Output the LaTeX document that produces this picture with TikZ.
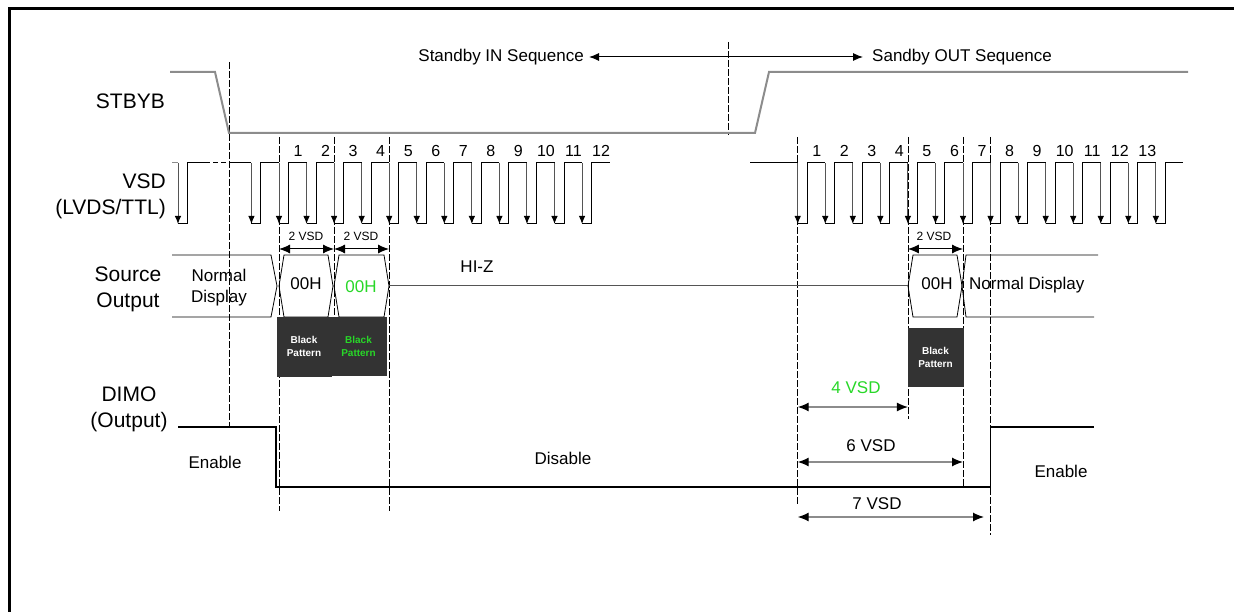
\documentclass[tikz,border=0pt]{standalone}
\usepackage{fontspec}
\setmainfont{Liberation Sans}
\usetikzlibrary{arrows.meta,calc,positioning}
\definecolor{wavegray}{RGB}{140,140,140}
\definecolor{edgegray}{RGB}{85,85,85}
\definecolor{patfill}{RGB}{51,51,51}
\definecolor{hilite}{RGB}{40,215,40}
\newcommand\hexcell[2]{\draw[cell] (#1+5,255) -- (#2-5,255) -- (#2,286) -- (#2-5,317) -- (#1+5,317) -- (#1,286) -- cycle;}

\begin{document}
\begin{tikzpicture}[x=1pt,y=-1pt,
  sig/.style={font=\fontsize{21}{26}\selectfont,inner sep=0pt},
  txt/.style={font=\fontsize{17}{21}\selectfont,inner sep=0pt},
  num/.style={font=\fontsize{16}{18}\selectfont,inner sep=0pt},
  small/.style={font=\fontsize{12}{14}\selectfont,inner sep=0pt},
  guide/.style={line width=0.7pt,dash pattern=on 7pt off 2pt},
  wave/.style={line width=1pt},
  pulse/.style={-{Latex[length=8pt,width=6.5pt,color=black]},edgegray,line width=1pt},
  dim/.style={{Latex[length=11pt,width=9pt,color=black]}-{Latex[length=11pt,width=9pt,color=black]},wavegray,line width=1.2pt},
  patt/.style={fill=patfill,draw=patfill,minimum width=55pt,minimum height=58pt,inner sep=0pt,
    font=\fontsize{10}{13}\selectfont\bfseries,align=center,text=white},
  cell/.style={line width=0.8pt}]
\useasboundingbox (0,0) rectangle (1234,612);
\draw[line width=3pt] (9,612) -- (9,9) -- (1234,9);

\foreach \n/\x in {a/229,b/279,c/334,d/389,e/728,f/797.7,g/907.9,h/963,i/990.5}
  \coordinate (\n) at (\x,0);

\node[txt,anchor=east] (inseq) at (584,57) {Standby IN Sequence};
\node[txt,anchor=west] (outseq) at (872,57) {Sandby OUT Sequence};
\draw[{Latex[length=10pt,width=8pt]}-{Latex[length=10pt,width=8pt]},line width=1pt] ([xshift=5pt]inseq.east) -- ([xshift=-9pt]outseq.west);

\node[sig,anchor=east] (stbyb) at (165,101) {STBYB};
\node[sig,anchor=east,align=right] (vsd) at (166,196) {VSD\\(LVDS/TTL)};
\node[sig,align=center] (src) at (128,289) {Source\\Output};
\node[sig,align=center] (dimo) at (129,409) {DIMO\\(Output)};

\draw[guide] (a |- 0,62) -- (a |- 0,427);
\draw[guide] (b |- 0,137) -- (b |- 0,511);
\draw[guide] (c |- 0,137) -- (c |- 0,317);
\draw[guide] (d |- 0,137) -- (d |- 0,511);
\draw[guide] (e |- 0,42) -- (e |- 0,135);
\draw[guide] (f |- 0,137) -- (f |- 0,505);
\draw[guide] (g |- 0,137) -- (g |- 0,419);
\draw[guide] (h |- 0,137) -- (h |- 0,487);
\draw[guide] (i |- 0,137) -- (i |- 0,535);

\draw[wavegray,line width=2pt] (170,72) -- (215,72) -- (a |- 0,133) -- (755,133) -- (769,72) -- (1188,72);

\draw[wavegray,line width=1pt] (172,163) -- (178,163);
\draw[pulse] (178,163) -- (178,224);
\draw[wave] (178,224) -- (187.5,224) -- (187.5,163) -- (205,163);
\draw[wave,dash pattern=on 5pt off 3pt] (205,163) -- (a |- 0,163);
\draw[wave] (a |- 0,163) -- (251.45,163);
\foreach \k in {-1,...,11} {
  \pgfmathsetmacro\xa{279+27.55*\k}
  \draw[pulse] (\xa,163) -- (\xa,224);
  \draw[wave] (\xa,224) -- ++(9.5,0) -- ++(0,-61) -- ++(18.05,0);
}
\foreach \k in {1,...,12}
  \node[num] (n\k) at (279+27.55*\k-27.55+19,151) {\k};

\draw[wave] (750,163) -- (f |- 0,163);
\foreach \k in {0,...,13} {
  \pgfmathsetmacro\xa{797.7+27.55*\k}
  \draw[pulse] (\xa,163) -- (\xa,224);
  \draw[wave] (\xa,224) -- ++(9.5,0) -- ++(0,-61) -- ++(18.05,0);
}
\foreach \k in {1,...,13}
  \node[num] (m\k) at (797.7+27.55*\k-27.55+19,151) {\k};

\draw[dim,black,line width=1pt] (b |- 0,249) -- (c |- 0,249);
\draw[dim,black,line width=1pt] (c |- 0,249) -- (d |- 0,249);
\draw[dim,black,line width=1pt] (g |- 0,249) -- (h |- 0,249);
\node[small] (t1) at (306,236) {2 VSD};
\node[small] (t2) at (361,236) {2 VSD};
\node[small] (t3) at (934,236) {2 VSD};

\draw[cell] (172,255) -- (271,255) -- (277,286) -- (271,317) -- (172,317);
\node[txt,align=center] (nd1) at (219,288) {Normal\\Display};
\hexcell{279}{333}
\hexcell{334}{389}
\hexcell{908}{962}
\node[txt] (h1) at (306,284) {00H};
\node[txt,text=hilite] (h2) at (361,287) {00H};
\node[txt] (h3) at (937,284) {00H};
\draw[edgegray,line width=1pt] (d |- 0,286) -- (g |- 0,286);
\node[txt] (hiz) at (477,267) {HI-Z};
\draw[cell] (1098,255) -- (966,255) -- (962,286) -- (966,317) -- (1094,317);
\node[txt,anchor=west] (nd2) at (969,285) {Normal Display};

\node[patt,minimum width=54pt,minimum height=59pt] (bp1) at (304,346.5) {Black\\Pattern};
\node[patt,text=hilite] (bp2) at (358.5,346) {Black\\Pattern};
\node[patt] (bp3) at (935.5,357) {Black\\Pattern};

\draw[line width=1.3pt] (178,427) -- (276,427) -- (276,487) -- (i |- 0,487) -- (i |- 0,427) -- (1094,427);
\node[txt] (en1) at (215,462) {Enable};
\node[txt] (dis) at (563,458) {Disable};
\node[txt] (en2) at (1061,471) {Enable};

\draw[dim] (f |- 0,407) -- (g |- 0,407);
\draw[dim] (f |- 0,462) -- (h |- 0,462);
\draw[dim] (f |- 0,517) -- (984,517);
\node[txt,text=hilite] (v4) at (856,388) {4 VSD};
\node[txt] (v6) at (871,446) {6 VSD};
\node[txt] (v7) at (877,504) {7 VSD};
\end{tikzpicture}
\end{document}
